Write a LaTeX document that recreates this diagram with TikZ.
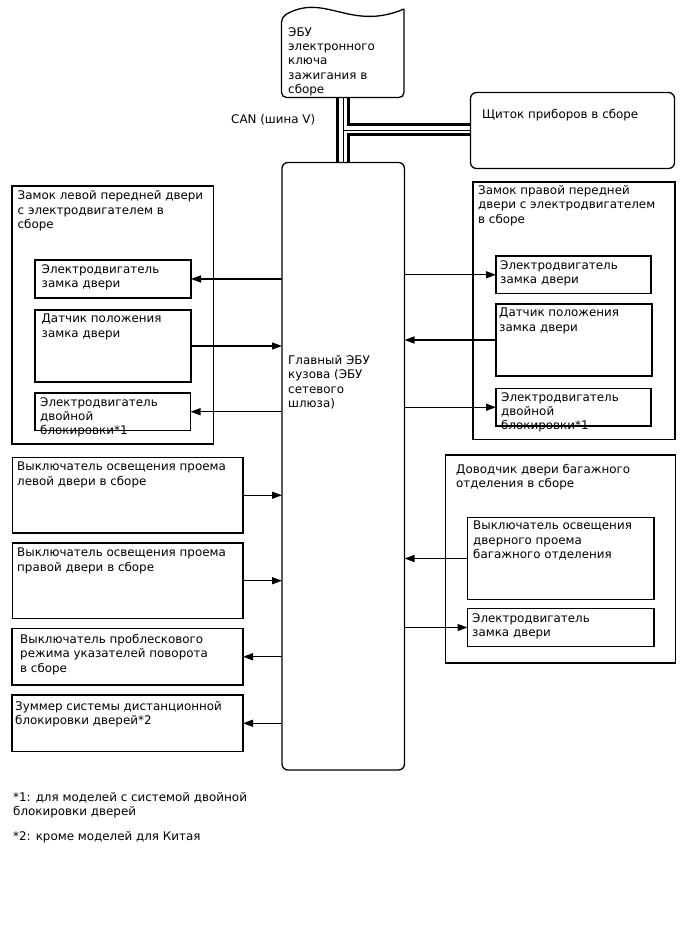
\documentclass[tikz,border=0pt]{standalone}
\usepackage{fontspec}
\setmainfont{DejaVu Sans}
\usetikzlibrary{arrows.meta}
\begin{document}
\begin{tikzpicture}[x=1pt,y=-1pt,
  box/.style={draw, line width=1.3pt, anchor=north west, inner sep=0pt, outer sep=0pt},
  rbox/.style={box, rounded corners=6pt},
  txt/.style={anchor=north west, inner sep=0pt, align=left, font=\fontsize{11.9}{14.4}\selectfont},
  arr/.style={line width=1.4pt, -{Triangle[length=10pt,width=7pt]}},
  thickbus/.style={line width=3pt, line join=miter},
  thinbus/.style={line width=0.9pt}]
\useasboundingbox (0,0) rectangle (688,949);

% boxes
\node[rbox, minimum width=204pt, minimum height=76pt] (shchit) at (470.5,92.5) {};
\node[rbox, minimum width=122.5pt, minimum height=607.5pt] (main) at (282,162.5) {};
\node[box, minimum width=201.5pt, minimum height=258pt] (ld) at (12,186) {};
\node[box, minimum width=156pt, minimum height=38pt] (ld1) at (35,260) {};
\node[box, minimum width=156pt, minimum height=72pt] (ld2) at (35,310) {};
\node[box, minimum width=155.5pt, minimum height=37.5pt] (ld3) at (35,393) {};
\node[box, minimum width=202pt, minimum height=257.5pt] (rd) at (473,182) {};
\node[box, minimum width=155pt, minimum height=37.5pt] (rd1) at (496,256) {};
\node[box, minimum width=156pt, minimum height=72pt] (rd2) at (496,304) {};
\node[box, minimum width=155pt, minimum height=37.5pt] (rd3) at (496,388.5) {};
\node[box, minimum width=230pt, minimum height=208pt] (tr) at (445.5,455) {};
\node[box, minimum width=186.5pt, minimum height=82pt] (tr1) at (467.5,517.5) {};
\node[box, minimum width=186.5pt, minimum height=38pt] (tr2) at (467.5,608.5) {};
\node[box, minimum width=230.5pt, minimum height=75.5pt] (lb1) at (12.5,457.5) {};
\node[box, minimum width=230.5pt, minimum height=75.5pt] (lb2) at (12.5,543) {};
\node[box, minimum width=231pt, minimum height=56.5pt] (lb3) at (12,628.5) {};
\node[box, minimum width=231pt, minimum height=56.5pt] (lb4) at (12,695) {};

% ignition key ECU (document-like shape)
\node[anchor=north west, inner sep=0pt, outer sep=0pt, minimum width=122.5pt, minimum height=90pt] (key) at (281.5,7.5) {};
\draw[line width=1.3pt, rounded corners=5pt] (404,9) -- (404,97.5) -- (281.5,97.5) -- (281.5,17)
  [sharp corners] .. controls (325,-8) and (350,32) .. (404,9);

% texts
\node[txt] (tkey) at (288,27) {ЭБУ\\электронного\\ключа\\зажигания в\\сборе};
\node[txt] (tshchit) at (482,109) {Щиток приборов в сборе};
\node[txt] (tcan) at (231,114) {CAN (шина V)};
\node[txt] (tmain) at (288,355) {Главный ЭБУ\\кузова (ЭБУ\\сетевого\\шлюза)};
\node[txt] (tld) at (17.5,190.5) {Замок левой передней двери\\с электродвигателем в\\сборе};
\node[txt] (tld1) at (41.5,264) {Электродвигатель\\замка двери};
\node[txt] (tld2) at (41.5,314) {Датчик положения\\замка двери};
\node[txt] (tld3) at (40,397) {Электродвигатель\\двойной\\блокировки*1};
\node[txt] (trd) at (478,185) {Замок правой передней\\двери с электродвигателем\\в сборе};
\node[txt] (trd1) at (500,260) {Электродвигатель\\замка двери};
\node[txt] (trd2) at (499,308) {Датчик положения\\замка двери};
\node[txt] (trd3) at (501,392) {Электродвигатель\\двойной\\блокировки*1};
\node[txt] (ttr) at (456,464) {Доводчик двери багажного\\отделения в сборе};
\node[txt] (ttr1) at (473,521) {Выключатель освещения\\дверного проема\\багажного отделения};
\node[txt] (ttr2) at (472,613) {Электродвигатель\\замка двери};
\node[txt] (tlb1) at (17,462) {Выключатель освещения проема\\левой двери в сборе};
\node[txt] (tlb2) at (17,548) {Выключатель освещения проема\\правой двери в сборе};
\node[txt] (tlb3) at (20,634) {Выключатель проблескового\\режима указателей поворота\\в сборе};
\node[txt] (tlb4) at (15,701) {Зуммер системы дистанционной\\блокировки дверей*2};
\node[txt] (fn1) at (13,792) {*1: для моделей с системой двойной\\блокировки дверей};
\node[txt] (fn2) at (13,831) {*2: кроме моделей для Китая};

% CAN bus
\coordinate (bL) at (337.5,0);
\coordinate (bC) at (343,0);
\coordinate (bR) at (348.5,0);
\coordinate (yT) at (0,125);
\coordinate (yM) at (0,130);
\coordinate (yB) at (0,135);
\draw[thickbus] (key.south -| bL) -- (main.north -| bL);
\draw[thinbus] (key.south -| bC) -- (main.north -| bC);
\draw[thinbus] (bC |- yM) -- (shchit.west |- yM);
\draw[thickbus] (key.south -| bR) -- (bR |- yT) -- (shchit.west |- yT);
\draw[thickbus] (main.north -| bR) -- (bR |- yB) -- (shchit.west |- yB);

% arrows
\draw[arr] (main.west |- ld1.east) -- (ld1.east);
\draw[arr] (ld2.east) -- (main.west |- ld2.east);
\draw[arr] (main.west |- ld3.east) -- (ld3.east);
\draw[arr] (main.east |- rd1.west) -- (rd1.west);
\draw[arr] (rd2.west) -- (main.east |- rd2.west);
\draw[arr] (main.east |- rd3.west) -- (rd3.west);
\draw[arr] (tr1.west) -- (main.east |- tr1.west);
\draw[arr] (main.east |- tr2.west) -- (tr2.west);
\draw[arr] (lb1.east) -- (main.west |- lb1.east);
\draw[arr] (lb2.east) -- (main.west |- lb2.east);
\draw[arr] (main.west |- lb3.east) -- (lb3.east);
\draw[arr] (main.west |- lb4.east) -- (lb4.east);
\end{tikzpicture}
\end{document}
